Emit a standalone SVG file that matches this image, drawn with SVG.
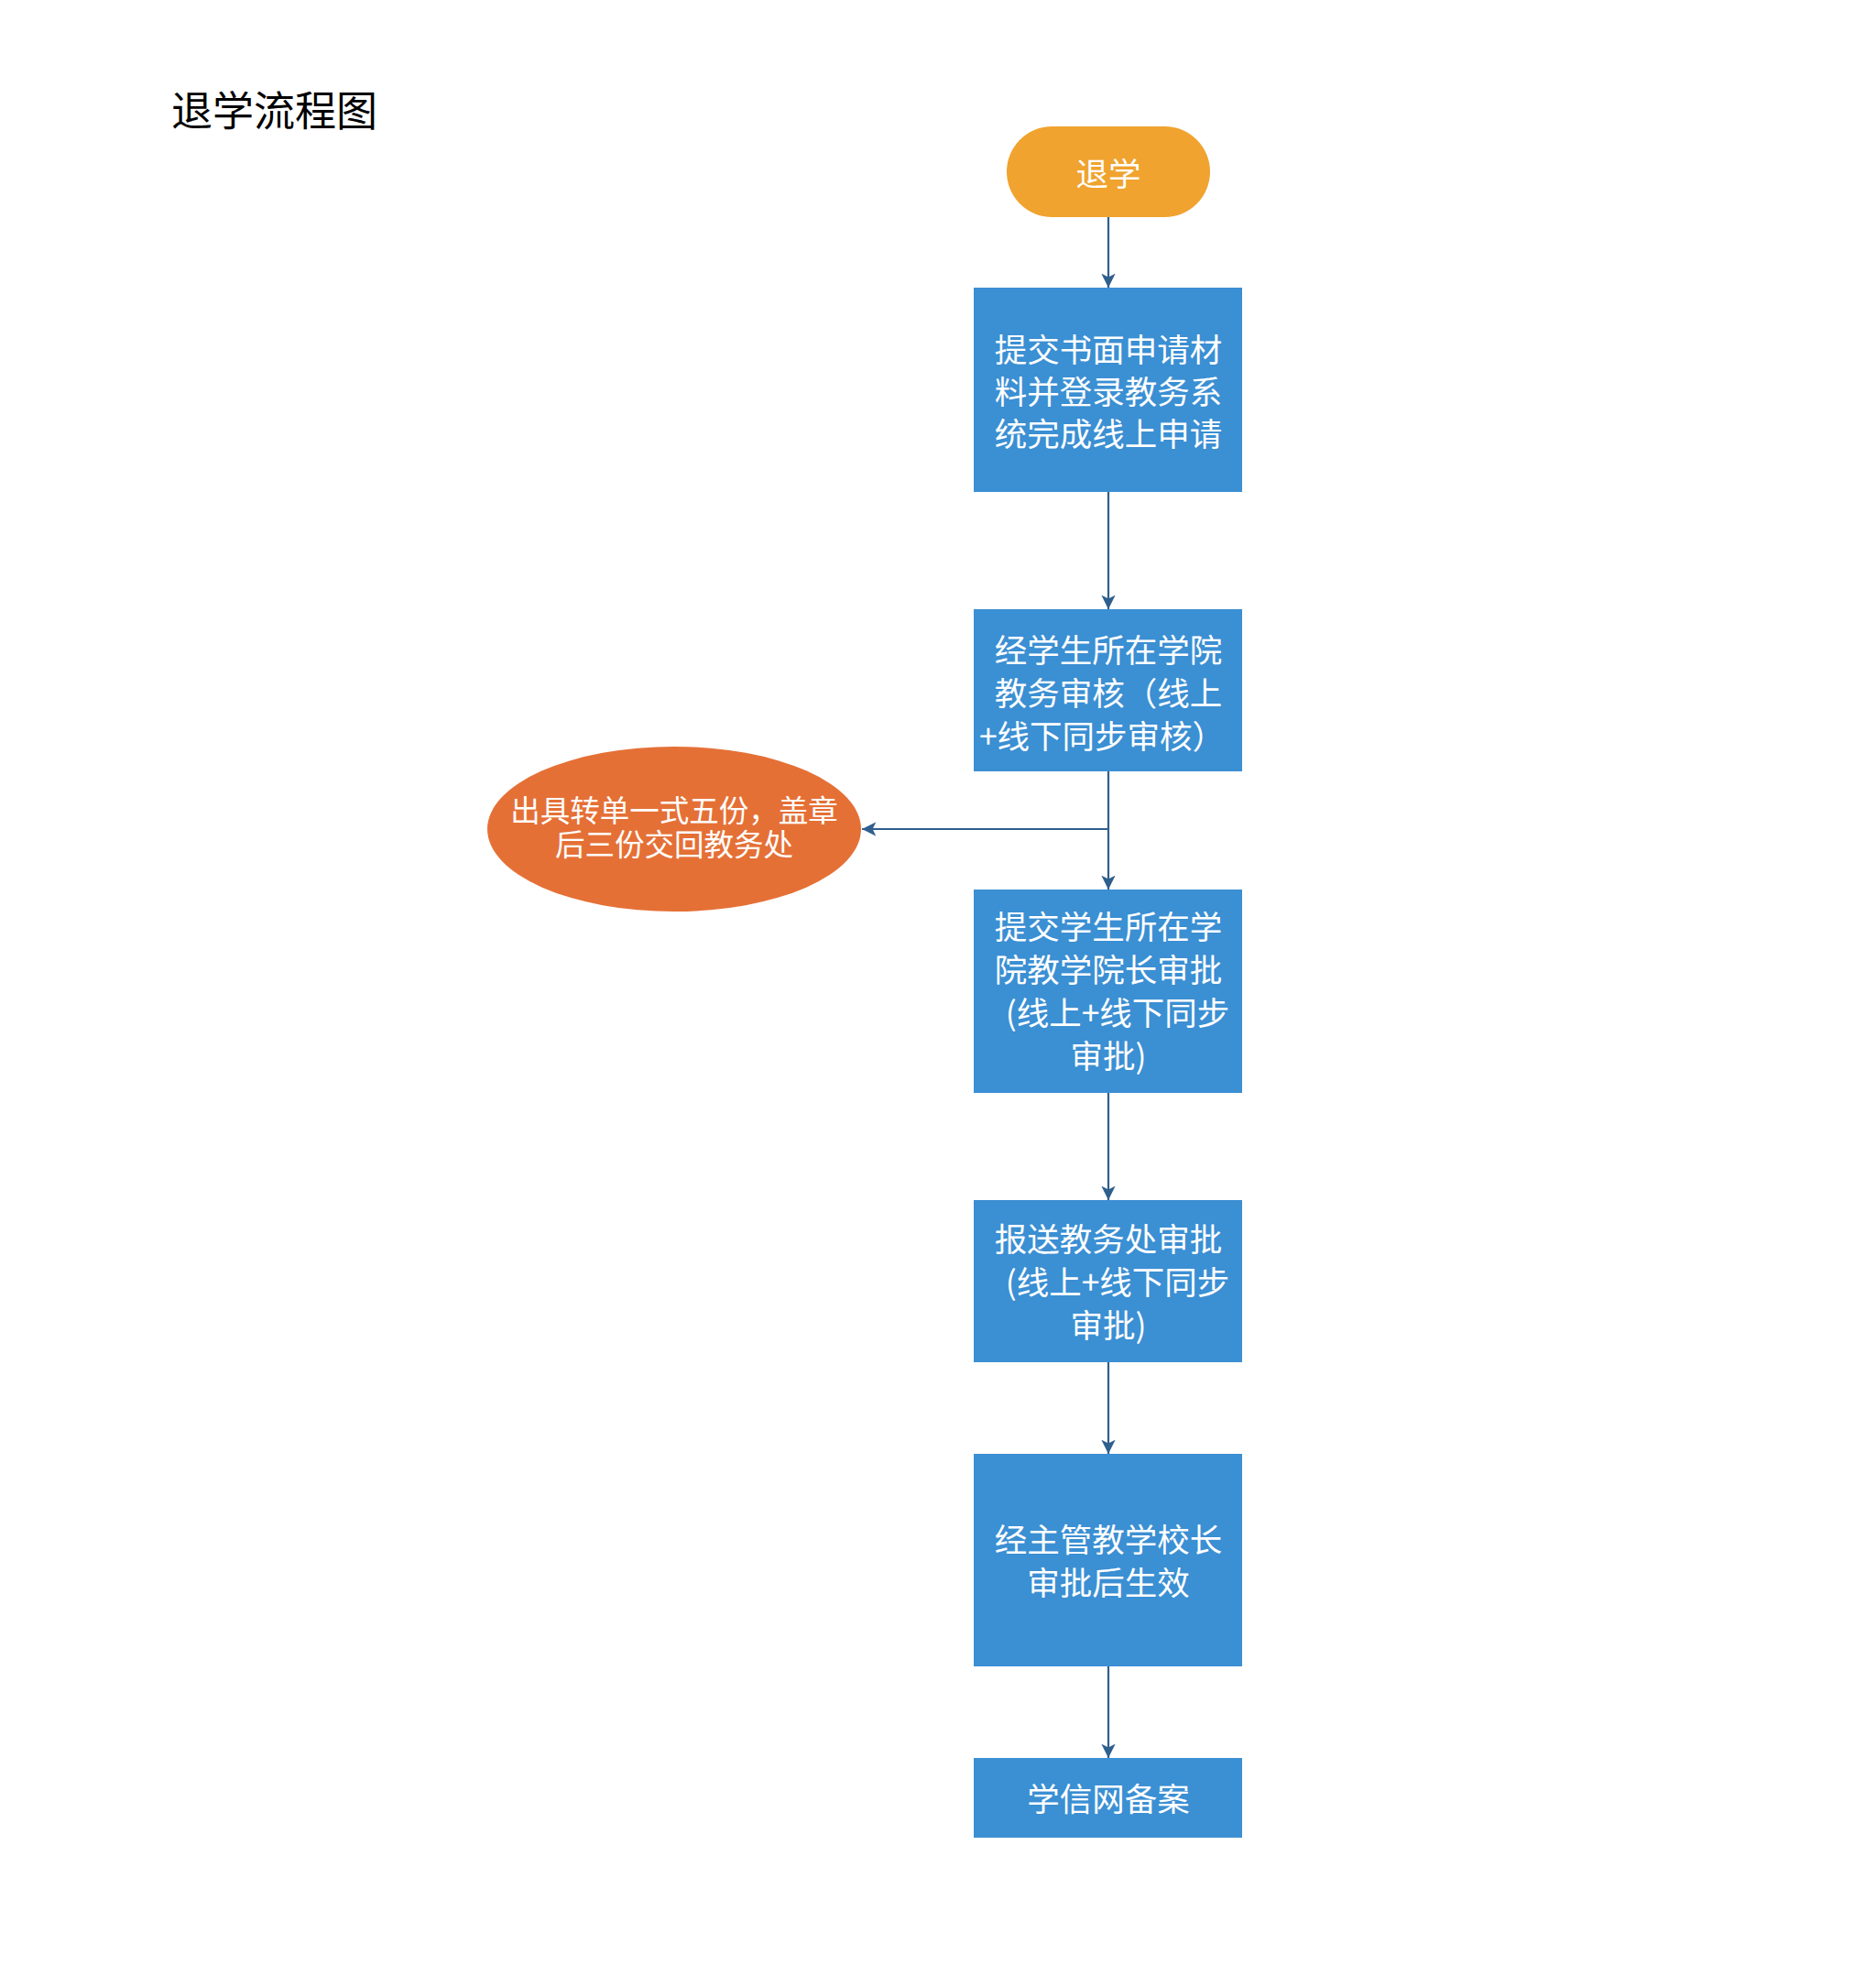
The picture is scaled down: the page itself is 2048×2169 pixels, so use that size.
<svg xmlns="http://www.w3.org/2000/svg" width="2048" height="2169" viewBox="0 0 2048 2169">
<style>
.box{fill:#3B8FD3;}
.t{font-family:"Noto Sans CJK SC","Noto Sans",sans-serif;font-size:35.5px;fill:#ffffff;text-anchor:middle;}
.s{font-family:"Liberation Serif","Noto Sans CJK SC",serif;font-size:32.5px;fill:#ffffff;text-anchor:middle;}
.title{font-family:"Liberation Serif","Noto Sans CJK SC",serif;font-size:45px;fill:#000000;}
.c{stroke:#2F5F8D;stroke-width:2.2;fill:none;marker-end:url(#ah);}
</style>
<defs>
<marker id="ah" viewBox="0 0 10 10" refX="10" refY="5" markerWidth="7" markerHeight="7" markerUnits="strokeWidth" orient="auto">
<path d="M0,0 L10,5 L0,10 L2.5,5 Z" fill="#2F5F8D"/>
</marker>
</defs>
<rect width="2048" height="2169" fill="#ffffff"/>
<text class="title" x="187" y="138">退学流程图</text>
<g id="connectors">
<line class="c" x1="1210" y1="237" x2="1210" y2="314"/>
<line class="c" x1="1210" y1="537" x2="1210" y2="665"/>
<line class="c" x1="1210" y1="842" x2="1210" y2="971"/>
<polyline class="c" points="1210,905 941,905"/>
<line class="c" x1="1210" y1="1193" x2="1210" y2="1310"/>
<line class="c" x1="1210" y1="1487" x2="1210" y2="1587"/>
<line class="c" x1="1210" y1="1819" x2="1210" y2="1919"/>
</g>
<g id="start">
<rect x="1099" y="138" width="222" height="99" rx="49.5" ry="49.5" fill="#F0A32E"/>
<text class="t" x="1210" y="203">退学</text>
</g>
<g id="step1">
<rect class="box" x="1063" y="314" width="293" height="223"/>
<text class="t" x="1210" y="395">提交书面申请材</text>
<text class="t" x="1210" y="441">料并登录教务系</text>
<text class="t" x="1210" y="487">统完成线上申请</text>
</g>
<g id="step2">
<rect class="box" x="1063" y="665" width="293" height="177"/>
<text class="t" x="1210" y="723">经学生所在学院</text>
<text class="t" x="1210" y="770">教务审核（线上</text>
<text class="t" x="1203" y="817">+线下同步审核）</text>
</g>
<g id="branch">
<ellipse cx="736" cy="905" rx="204" ry="90" fill="#E57036"/>
<text class="s" x="736" y="897">出具转单一式五份，盖章</text>
<text class="s" x="736" y="934">后三份交回教务处</text>
</g>
<g id="step3">
<rect class="box" x="1063" y="971" width="293" height="222"/>
<text class="t" x="1210" y="1025">提交学生所在学</text>
<text class="t" x="1210" y="1072">院教学院长审批</text>
<text class="t" x="1220" y="1119">(线上+线下同步</text>
<text class="t" x="1210" y="1166">审批)</text>
</g>
<g id="step4">
<rect class="box" x="1063" y="1310" width="293" height="177"/>
<text class="t" x="1210" y="1366">报送教务处审批</text>
<text class="t" x="1220" y="1413">(线上+线下同步</text>
<text class="t" x="1210" y="1460">审批)</text>
</g>
<g id="step5">
<rect class="box" x="1063" y="1587" width="293" height="232"/>
<text class="t" x="1210" y="1694">经主管教学校长</text>
<text class="t" x="1210" y="1741">审批后生效</text>
</g>
<g id="step6">
<rect class="box" x="1063" y="1919" width="293" height="87"/>
<text class="t" x="1210" y="1977">学信网备案</text>
</g>
</svg>
